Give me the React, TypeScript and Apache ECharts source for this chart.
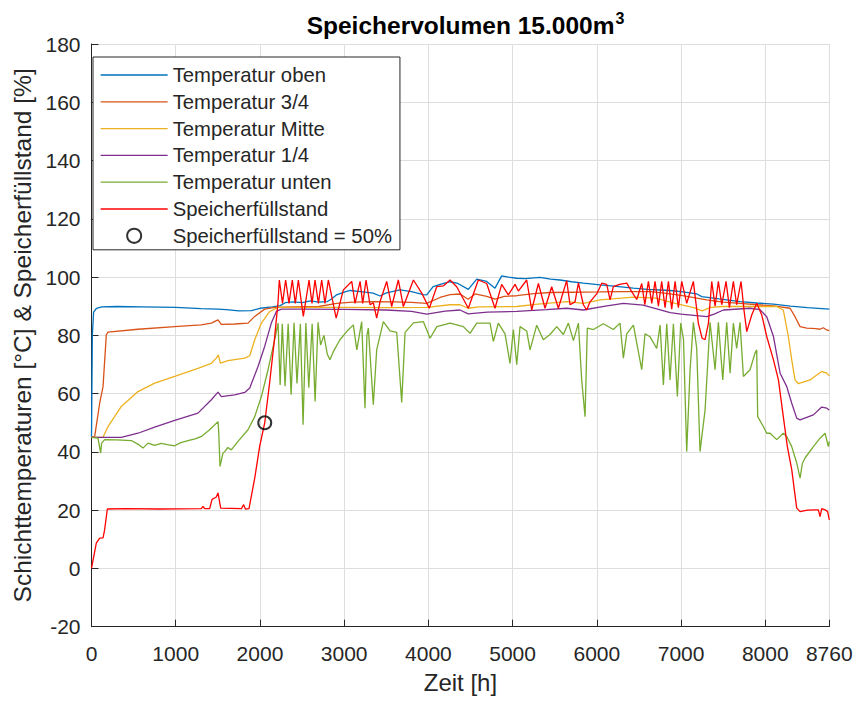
import React, { useEffect, useRef } from "react";
import * as echarts from "echarts";

// ---- data (hours, value) ----
const tempOben: [number, number][] = [
  [0, 45], [10, 80], [25, 88], [60, 89.3], [120, 89.8], [300, 89.9], [600, 89.8], [1000, 89.6],
  [1300, 89.2], [1500, 89.0], [1600, 88.8], [1750, 88.4], [1900, 88.5], [2000, 89.3], [2150, 89.8],
  [2240, 90.2], [2300, 91.2], [2400, 91.5], [2500, 91.2], [2600, 91.8], [2700, 91.4], [2800, 91.6],
  [2850, 92.5], [2911, 93.9], [3000, 94.8], [3070, 95.4], [3200, 95.0], [3343, 94.5], [3426, 93.5],
  [3500, 94.6], [3663, 95.6], [3800, 95.0], [3940, 94.0], [3980, 93.9], [4056, 96.7], [4150, 97.6],
  [4257, 98.4], [4350, 97.8], [4474, 95.8], [4574, 99.3], [4692, 98.5], [4791, 96.2], [4870, 100.4],
  [4950, 100.0], [5049, 99.6], [5150, 99.5], [5325, 99.9], [5450, 99.3], [5563, 99.0], [5700, 98.4],
  [5840, 97.9], [6038, 97.3], [6200, 96.9], [6434, 96.2], [6600, 95.8], [6870, 95.4], [7000, 95.0],
  [7188, 94.2], [7246, 93.3], [7450, 92.5], [7700, 91.6], [7900, 91.1], [8097, 90.7], [8300, 90.0],
  [8500, 89.5], [8760, 89.0],
];

const temp34: [number, number][] = [
  [0, 45], [38, 45.3], [97, 56.7], [137, 62.4], [176, 80.2], [196, 81.1], [552, 82.1], [988, 83.0],
  [1300, 83.6], [1423, 84.2], [1502, 85.3], [1541, 83.8], [1700, 83.9], [1858, 84.2], [1938, 86.5],
  [2056, 89.0], [2175, 89.6], [2400, 89.8], [2700, 89.9], [2911, 91.0], [3100, 91.4], [3346, 91.6],
  [3600, 91.5], [3800, 91.3], [3980, 91.0], [4138, 93.0], [4257, 94.0], [4376, 94.2], [4472, 92.4],
  [4554, 94.2], [4692, 93.4], [4792, 92.4], [4900, 93.4], [5049, 93.6], [5250, 94.3], [5446, 94.7],
  [5700, 94.8], [6038, 94.9], [6300, 95.0], [6632, 95.0], [6800, 94.5], [7000, 93.7], [7306, 92.2],
  [7500, 91.4], [7700, 91.0], [7900, 90.5], [8097, 90.1], [8294, 89.3], [8353, 86.4], [8413, 83.0],
  [8492, 82.5], [8600, 82.3], [8650, 82.1], [8689, 82.6], [8720, 82.0], [8760, 81.6],
];

const tempMitte: [number, number][] = [
  [0, 45], [137, 45], [196, 48.7], [354, 55.6], [552, 60.7], [750, 63.6], [988, 65.9], [1264, 68.7],
  [1423, 70.4], [1482, 72.2], [1506, 73.3], [1530, 70.5], [1621, 71.3], [1819, 72.2], [1879, 73.0],
  [1938, 78.5], [2017, 84.2], [2116, 88.2], [2215, 89.6], [2500, 89.6], [3000, 89.6], [3500, 89.5],
  [3980, 89.6], [4257, 90.5], [4376, 90.5], [4472, 89.3], [4600, 89.8], [5049, 89.9], [5300, 90.7],
  [5642, 91.6], [5840, 91.0], [6038, 92.2], [6434, 93.1], [6700, 92.8], [6929, 91.0], [7150, 89.5],
  [7250, 88.4], [7350, 89.6], [7500, 89.9], [8000, 89.9], [8136, 89.9], [8214, 88.7], [8274, 79.6],
  [8314, 71.6], [8353, 64.7], [8393, 63.4], [8532, 64.7], [8611, 66.4], [8670, 67.6], [8730, 67.0],
  [8760, 66.1],
];

const temp14: [number, number][] = [
  [0, 45], [354, 45], [552, 46.4], [750, 48.5], [988, 50.8], [1264, 53.3], [1423, 57.9], [1502, 60.5],
  [1541, 59.0], [1700, 59.6], [1819, 60.4], [1879, 61.9], [1977, 69.3], [2056, 76.2], [2135, 84.2],
  [2195, 88.2], [2254, 89.0], [2500, 89.0], [3000, 88.9], [3500, 88.7], [3800, 88.2], [3980, 87.3],
  [4200, 88.3], [4376, 88.7], [4472, 87.4], [4700, 88.0], [5049, 88.2], [5400, 88.8], [5642, 89.3],
  [5840, 88.7], [6100, 90.0], [6315, 91.0], [6550, 90.4], [6870, 87.8], [7000, 87.3], [7306, 86.4],
  [7400, 87.4], [7502, 88.7], [7819, 89.3], [7938, 88.8], [8017, 86.4], [8097, 79.6], [8176, 67.0],
  [8255, 62.4], [8314, 56.7], [8373, 51.6], [8413, 51.0], [8571, 52.7], [8670, 55.4], [8730, 55.0],
  [8760, 54.4],
];

const tempUnten: [number, number][] = [
  [0, 45], [77, 44.7], [100, 41], [109, 39.6], [120, 43], [156, 44.2], [300, 44.1], [473, 43.9],
  [560, 42.5], [611, 41.3], [671, 43.0], [750, 42.2], [829, 42.9], [900, 42.5], [988, 42.1],
  [1060, 43.2], [1146, 43.9], [1230, 44.5], [1304, 45.3], [1400, 47.5], [1502, 50.4], [1510, 47],
  [1526, 35.0], [1560, 39.5], [1581, 40.1], [1620, 41.5], [1660, 40.7], [1739, 43.6], [1858, 47.6],
  [1938, 52.1], [2017, 59.0], [2096, 68.2], [2175, 78.5], [2215, 84.2], [2240, 63.0], [2265, 84.0],
  [2298, 62.5], [2335, 84.0], [2370, 59.6], [2405, 84.3], [2440, 63.5], [2480, 84.0], [2512, 49.3],
  [2545, 84.2], [2580, 62.0], [2620, 84.0], [2655, 57.3], [2690, 84.5], [2720, 76.7], [2760, 80],
  [2800, 73.5], [2831, 71.6], [2871, 74.4], [2950, 78.5], [3030, 81.3], [3109, 83.6], [3150, 75.0],
  [3208, 84.7], [3247, 55.0], [3270, 80], [3287, 82.5], [3346, 56.2], [3386, 75], [3465, 84.7],
  [3545, 81.5], [3624, 81.0], [3683, 57.0], [3723, 81.0], [3822, 84.3], [3941, 84.7], [4020, 79.0],
  [4100, 83], [4257, 84.2], [4415, 83.0], [4494, 80.7], [4574, 84.2], [4732, 84.2], [4771, 77.9],
  [4830, 84.2], [4910, 80.5], [4969, 70.4], [5009, 82], [5049, 69.9], [5088, 83.0], [5167, 81.5],
  [5207, 75.0], [5286, 83.5], [5365, 78.5], [5444, 80.3], [5524, 83.0], [5603, 80.3], [5662, 84.2],
  [5722, 78.2], [5781, 84.2], [5820, 64.7], [5860, 52.1], [5887, 82.5], [5959, 82.0], [6077, 84.0],
  [6196, 82.0], [6275, 84.2], [6315, 72.2], [6355, 80.5], [6434, 83.5], [6533, 68.2], [6572, 80.5],
  [6632, 79.5], [6711, 75.5], [6751, 83.5], [6790, 63.0], [6830, 84.0], [6869, 64.7], [6909, 84.0],
  [6956, 59.0], [6996, 84.2], [7029, 78.5], [7067, 40.1], [7107, 68.2], [7146, 84.5], [7186, 75.5],
  [7225, 40.1], [7285, 54.4], [7344, 84.5], [7404, 68.2], [7443, 84.5], [7495, 64.7], [7542, 84.5],
  [7582, 67.0], [7621, 84.2], [7660, 75.5], [7700, 84.5], [7740, 65.9], [7819, 68.2], [7878, 73.9],
  [7898, 75.0], [7910, 52.1], [7977, 48.7], [8017, 46.4], [8057, 46.4], [8136, 44.2], [8214, 46.4],
  [8255, 45.3], [8314, 41.8], [8373, 36.2], [8413, 31.0], [8440, 36], [8472, 37.9], [8571, 41.8],
  [8650, 44.7], [8710, 46.4], [8749, 41.8], [8760, 43.6],
];

const fuellstand: [number, number][] = [
  [0, 0], [57, 8.7], [97, 10.4], [137, 10.5], [156, 13.3], [188, 20.4], [400, 20.5], [800, 20.4],
  [1304, 20.5], [1324, 21.3], [1344, 20.5], [1403, 20.5], [1431, 23.7], [1482, 24.5], [1502, 25.9],
  [1534, 20.7], [1779, 20.5], [1807, 21.9], [1827, 20.4], [1870, 20.5], [1938, 31], [1997, 42],
  [2057, 50], [2120, 65], [2170, 78], [2215, 91.5], [2230, 99], [2268, 91], [2305, 99], [2345, 91],
  [2384, 99], [2420, 91], [2456, 99], [2515, 86.5], [2583, 99], [2618, 91], [2654, 99], [2694, 91],
  [2733, 99], [2772, 91], [2812, 99], [2905, 85.9], [2990, 95.6], [3090, 98.5], [3129, 91],
  [3189, 98.5], [3220, 91], [3260, 99], [3307, 90.5], [3346, 91.2], [3386, 85.9], [3426, 91.6],
  [3505, 98.5], [3564, 89.9], [3643, 99], [3703, 89.9], [3822, 99], [3921, 94.5], [4011, 89.3],
  [4099, 96.7], [4180, 97], [4257, 99.0], [4336, 96.7], [4474, 89.3], [4593, 99.0], [4692, 97.8],
  [4791, 89.3], [4870, 97.5], [4949, 93.9], [5029, 97.5], [5068, 95.2], [5167, 99], [5227, 88.7],
  [5306, 97.8], [5385, 89.3], [5464, 96.7], [5543, 89.3], [5642, 98.8], [5682, 90.5], [5741, 91.5],
  [5781, 98.0], [5840, 90.5], [5880, 88.7], [5919, 91.5], [6000, 94.3], [6058, 97.9], [6117, 97.5],
  [6157, 92.2], [6196, 96.7], [6270, 97.5], [6355, 97.9], [6414, 95.0], [6474, 92.3], [6533, 97.8],
  [6570, 90.5], [6612, 98.5], [6652, 91], [6691, 98.5], [6731, 90], [6770, 98.5], [6810, 89.5],
  [6850, 98.5], [6889, 89], [6929, 98.5], [6968, 89.5], [7008, 98.5], [7067, 91], [7146, 98.5],
  [7205, 84.2], [7250, 79], [7285, 78.5], [7325, 84.2], [7364, 98.5], [7404, 90], [7443, 98.5],
  [7483, 90.5], [7534, 98.5], [7574, 89.5], [7621, 98.5], [7660, 90.5], [7712, 98.5], [7748, 88.5],
  [7780, 81.3], [7839, 87], [7898, 91], [7958, 87], [8017, 79.6], [8097, 71.6], [8156, 64.7],
  [8214, 52.1], [8262, 41.8], [8314, 33.9], [8373, 20.7], [8413, 19.5], [8500, 20], [8600, 20.1],
  [8630, 20.1], [8650, 17.8], [8670, 20.5], [8718, 20], [8740, 19.5], [8760, 16.7],
];

const marker50: [number, number][] = [[2057, 50]];

const seriesNames = [
  "Temperatur oben",
  "Temperatur 3/4",
  "Temperatur Mitte",
  "Temperatur 1/4",
  "Temperatur unten",
  "Speicherfüllstand",
  "Speicherfüllstand = 50%",
];
const seriesColors = ["#0072BD", "#D95319", "#EDB120", "#7E2F8E", "#77AC30", "#FF0000"];

const FONT = "'Liberation Sans', Arial, Helvetica, sans-serif";
const TXT = "#262626";

export default function App() {
  const ref = useRef<HTMLDivElement>(null);
  useEffect(() => {
    document.body.style.margin = "0";
    if (!ref.current) return;
    const chart = echarts.init(ref.current, undefined, { renderer: "svg" });
    const lines = [tempOben, temp34, tempMitte, temp14, tempUnten, fuellstand];
    const series: any[] = lines.map((d, i) => ({
      name: seriesNames[i],
      type: "line",
      data: d,
      symbol: "none",
      color: seriesColors[i],
      lineStyle: { width: 1.3, color: seriesColors[i] },
      z: 2 + i,
    }));
    series.push({
      name: seriesNames[6],
      type: "scatter",
      data: marker50,
      symbol: "circle",
      symbolSize: 13,
      itemStyle: { color: "rgba(0,0,0,0)", borderColor: "#000", borderWidth: 2 },
      z: 10,
    });
    chart.setOption({
      animation: false,
      backgroundColor: "#fff",
      title: {
        text: "{a|Speichervolumen 15.000m}{s|3}",
        left: 460.5,
        textAlign: "center",
        top: 5,
        textStyle: {
          rich: {
            a: { fontFamily: FONT, fontSize: 24.5, fontWeight: "bold", color: "#000", lineHeight: 30 },
            s: { fontFamily: FONT, fontSize: 16, fontWeight: "bold", color: "#000", verticalAlign: "top", lineHeight: 30, padding: [0, 0, 12, 1] },
          },
        },
      },
      grid: { left: 91.5, right: 28.7, top: 44, bottom: 75.3, containLabel: false },
      legend: {
        orient: "vertical",
        left: 93,
        top: 57,
        padding: [8, 8, 4, 7],
        itemWidth: 67,
        itemHeight: 14,
        itemGap: 6.8,
        backgroundColor: "#fff",
        borderColor: TXT,
        borderWidth: 1,
        selectedMode: false,
        textStyle: { fontFamily: FONT, fontSize: 20.3, color: TXT },
        data: seriesNames.map((n, i) =>
          i < 6
            ? { name: n, itemStyle: { opacity: 0, borderWidth: 0 }, lineStyle: { width: 1.3, color: seriesColors[i] } }
            : { name: n, icon: "circle", itemStyle: { color: "rgba(0,0,0,0)", borderColor: "#000", borderWidth: 2 } }
        ),
        z: 20,
      },
      xAxis: {
        type: "value",
        min: 0,
        max: 8760,
        interval: 1000,
        name: "Zeit [h]",
        nameLocation: "middle",
        nameGap: 44,
        nameTextStyle: { fontFamily: FONT, fontSize: 24, color: TXT },
        axisLine: { show: true, onZero: false, lineStyle: { color: TXT, width: 1 } },
        axisTick: { show: true, inside: true, length: 7, lineStyle: { color: TXT } },
        axisLabel: {
          fontFamily: FONT,
          fontSize: 21,
          color: TXT,
          margin: 16,
          showMaxLabel: true,
          showMinLabel: true,
          formatter: (v: number) => String(v),
        },
        splitLine: { show: true, lineStyle: { color: "#dedede", width: 1 } },
      },
      yAxis: {
        type: "value",
        min: -20,
        max: 180,
        interval: 20,
        name: "Schichttemperaturen [°C] & Speicherfüllstand [%]",
        nameLocation: "middle",
        nameRotate: 90,
        nameGap: 56,
        nameTextStyle: { fontFamily: FONT, fontSize: 24.5, color: TXT },
        axisLine: { show: true, onZero: false, lineStyle: { color: TXT, width: 1 } },
        axisTick: { show: true, inside: true, length: 7, lineStyle: { color: TXT } },
        axisLabel: {
          fontFamily: FONT,
          fontSize: 21,
          color: TXT,
          margin: 11,
          formatter: (v: number) => String(v),
        },
        splitLine: { show: true, lineStyle: { color: "#dedede", width: 1 } },
      },
      series,
    });
    return () => chart.dispose();
  }, []);
  return (
    <div
      ref={ref}
      style={{ position: "absolute", left: 0, top: 0, width: 858, height: 702 }}
    />
  );
}
